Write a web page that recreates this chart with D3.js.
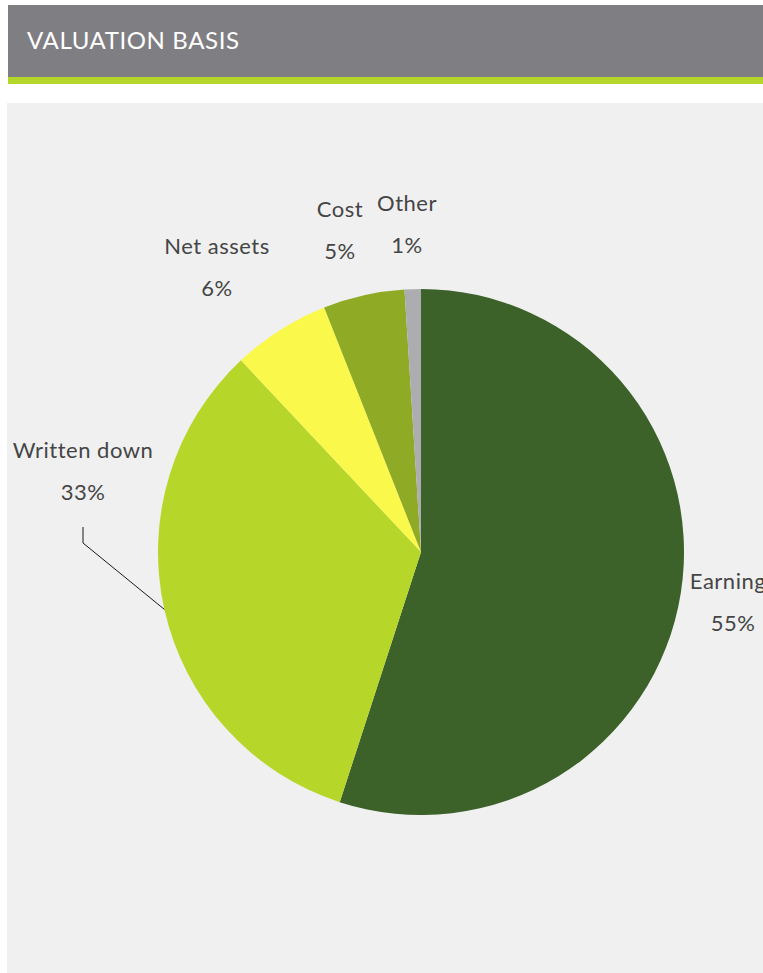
<!DOCTYPE html>
<html>
<head>
<meta charset="utf-8">
<script src="https://cdn.jsdelivr.net/npm/d3@7"></script>
<style>
  html, body { margin: 0; padding: 0; background: #ffffff; overflow: hidden; }
  svg { display: block; }
</style>
</head>
<body>
<svg id="chart" width="763" height="973"></svg>
<script>
// Valuation basis breakdown (percent of portfolio)
const categories = ["Earnings", "Written down", "Net assets", "Cost", "Other"];
const shares = [55, 33, 6, 5, 1];
const sliceColors = ["#3c6129", "#b6d62a", "#faf84a", "#8faa24", "#acadb1"];
const valueLabels = shares.map(v => v + "%");

// Label anchor points (baseline of the first line) per category
const labelSpots = [
  { x: 733, y: 589 },
  { x: 83, y: 458 },
  { x: 217, y: 254 },
  { x: 340, y: 217 },
  { x: 407, y: 211 }
];

const W = 763, H = 973;
const svg = d3.select("#chart");
const font = "Lato, 'Open Sans', sans-serif";

// Title banner
svg.append("rect").attr("x", 8).attr("y", 5).attr("width", W - 8).attr("height", 72).attr("fill", "#7f7e83");
svg.append("rect").attr("x", 8).attr("y", 77).attr("width", W - 8).attr("height", 7).attr("fill", "#b4d62a");
svg.append("text")
  .attr("x", 27).attr("y", 49)
  .attr("fill", "#ffffff")
  .attr("font-family", font)
  .attr("font-size", 24)
  .attr("letter-spacing", 0.6)
  .text("VALUATION BASIS");

// Chart panel
svg.append("rect").attr("x", 7).attr("y", 103).attr("width", W - 7).attr("height", H - 103).attr("fill", "#f0f0f0");

const cx = 421, cy = 552, radius = 263;

const pie = d3.pie().sort(null).value(d => d.value);
const arc = d3.arc().innerRadius(0).outerRadius(radius);

const rows = categories.map((c, i) => ({ name: c, value: shares[i], color: sliceColors[i], label: valueLabels[i], spot: labelSpots[i] }));
const arcs = pie(rows);

const g = svg.append("g").attr("transform", `translate(${cx},${cy})`);
g.selectAll("path.slice")
  .data(arcs)
  .join("path")
  .attr("class", "slice")
  .attr("d", arc)
  .attr("fill", d => d.data.color);

// Leader line from the "Written down" label to the middle of its slice edge
const wd = arcs[1];
const midAngle = (wd.startAngle + wd.endAngle) / 2;
const ex = cx + radius * Math.sin(midAngle);
const ey = cy - radius * Math.cos(midAngle);
svg.append("polyline")
  .attr("points", `${labelSpots[1].x},527 ${labelSpots[1].x},543 ${ex},${ey}`)
  .attr("fill", "none")
  .attr("stroke", "#1a1a1a")
  .attr("stroke-width", 1);

// Category and value labels
const labels = svg.selectAll("g.lbl")
  .data(arcs)
  .join("g")
  .attr("class", "lbl")
  .attr("font-family", font)
  .attr("font-size", 22)
  .attr("letter-spacing", 0.5)
  .attr("fill", "#454545")
  .attr("text-anchor", "middle");

labels.append("text")
  .attr("x", d => d.data.spot.x)
  .attr("y", d => d.data.spot.y)
  .text(d => d.data.name);

labels.append("text")
  .attr("x", d => d.data.spot.x)
  .attr("y", d => d.data.spot.y + 42)
  .text(d => d.data.label);
</script>
</body>
</html>
